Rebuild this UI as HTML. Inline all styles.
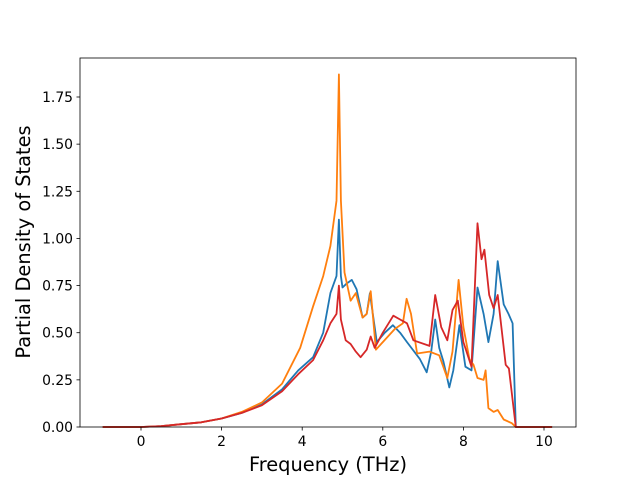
<!DOCTYPE html>
<html><head><meta charset="utf-8"><style>
body{margin:0;background:#fff;font-family:"DejaVu Sans","Liberation Sans",sans-serif}
</style></head><body>
<svg id="chart" width="640" height="480" xmlns="http://www.w3.org/2000/svg" font-family="DejaVu Sans, Liberation Sans, sans-serif">
<rect width="640" height="480" fill="#fff"/>
<g id="plot"></g>
<rect x="80" y="58" width="496" height="369" fill="none" stroke="#000" stroke-width="0.8"/>
<g id="axes" font-size="13.9" fill="#000"></g>
<text x="328" y="471" text-anchor="middle" font-size="19.4">Frequency (THz)</text>
<text transform="translate(30,242) rotate(-90)" text-anchor="middle" font-size="19.4">Partial Density of States</text>
</svg>
<script>
const xTicks=[0,2,4,6,8,10];
const yTicks=[0,0.25,0.5,0.75,1,1.25,1.5,1.75];
const yTickLabels=["0.00","0.25","0.50","0.75","1.00","1.25","1.50","1.75"];
const blueFreq=[-0.95,0,0.5,1,1.5,2,2.5,3,3.5,3.9,4.27,4.52,4.7,4.85,4.91,4.96,5.0,5.1,5.23,5.35,5.5,5.6,5.68,5.85,6.05,6.25,6.43,6.6,6.92,7.09,7.2,7.3,7.4,7.5,7.65,7.75,7.9,8.05,8.2,8.35,8.5,8.62,8.75,8.85,9.0,9.12,9.22,9.3,10.2];
const blueVals=[0,0,0.005,0.015,0.025,0.045,0.075,0.12,0.2,0.3,0.37,0.5,0.71,0.8,1.1,0.8,0.74,0.76,0.78,0.73,0.58,0.6,0.71,0.45,0.5,0.54,0.5,0.45,0.36,0.29,0.4,0.57,0.42,0.35,0.21,0.3,0.54,0.32,0.3,0.74,0.6,0.45,0.6,0.88,0.65,0.6,0.55,0,0];
const orangeFreq=[-0.95,0,0.5,1,1.5,2,2.5,3,3.5,3.95,4.27,4.52,4.7,4.85,4.91,4.96,5.05,5.2,5.33,5.5,5.6,5.7,5.83,6.0,6.3,6.5,6.59,6.7,6.85,7.16,7.4,7.6,7.73,7.88,8.0,8.15,8.25,8.35,8.5,8.55,8.62,8.75,8.85,9.0,9.2,9.3,10.2];
const orangeVals=[0,0,0.005,0.015,0.025,0.045,0.08,0.13,0.23,0.42,0.64,0.8,0.96,1.2,1.87,1.2,0.82,0.67,0.71,0.58,0.6,0.72,0.41,0.45,0.52,0.55,0.68,0.6,0.39,0.4,0.38,0.26,0.4,0.78,0.53,0.36,0.33,0.26,0.25,0.3,0.1,0.08,0.09,0.04,0.02,0,0];
const redFreq=[-0.95,0,0.5,1,1.5,2,2.5,3,3.5,3.9,4.27,4.52,4.7,4.85,4.91,4.96,5.08,5.2,5.33,5.45,5.6,5.7,5.8,6.0,6.26,6.43,6.6,6.76,7.16,7.3,7.45,7.6,7.73,7.86,8.0,8.2,8.35,8.45,8.52,8.64,8.75,8.85,9.05,9.13,9.3,10.2];
const redVals=[0,0,0.005,0.015,0.025,0.045,0.075,0.115,0.19,0.28,0.355,0.46,0.55,0.6,0.75,0.57,0.46,0.44,0.4,0.37,0.41,0.48,0.42,0.5,0.59,0.57,0.55,0.46,0.43,0.7,0.53,0.46,0.62,0.67,0.45,0.32,1.08,0.89,0.94,0.7,0.63,0.7,0.33,0.31,0,0];
const X=f=>141+(f-0)*(544-141)/10;
const Y=v=>427-v*(427-97)/1.75;
const NS="http://www.w3.org/2000/svg";
const plot=document.getElementById('plot'),axes=document.getElementById('axes');
function line(fr,vals,color,name){
  const p=document.createElementNS(NS,'polyline');
  p.setAttribute('points',fr.map((f,i)=>X(f).toFixed(1)+','+Y(vals[i]).toFixed(1)).join(' '));
  p.setAttribute('fill','none');p.setAttribute('stroke',color);p.setAttribute('stroke-width','1.8');p.setAttribute('stroke-linejoin','round');
  
  
  plot.appendChild(p);
}
line(blueFreq,blueVals,'#1f77b4','series-blue');
line(orangeFreq,orangeVals,'#ff7f0e','series-orange');
line(redFreq,redVals,'#d62728','series-red');
xTicks.forEach(t=>{
  const l=document.createElementNS(NS,'line');
  l.setAttribute('x1',X(t));l.setAttribute('x2',X(t));l.setAttribute('y1',427);l.setAttribute('y2',430.5);l.setAttribute('stroke','#000');l.setAttribute('stroke-width','0.8');
  
  
  axes.appendChild(l);
  const tx=document.createElementNS(NS,'text');
  tx.setAttribute('x',X(t));tx.setAttribute('y',446);tx.setAttribute('text-anchor','middle');tx.textContent=t;
  
  
  axes.appendChild(tx);
});
yTicks.forEach((t,i)=>{
  const l=document.createElementNS(NS,'line');
  l.setAttribute('x1',76.5);l.setAttribute('x2',80);l.setAttribute('y1',Y(t));l.setAttribute('y2',Y(t));l.setAttribute('stroke','#000');l.setAttribute('stroke-width','0.8');
  
  
  axes.appendChild(l);
  const tx=document.createElementNS(NS,'text');
  tx.setAttribute('x',73);tx.setAttribute('y',Y(t)+5);tx.setAttribute('text-anchor','end');tx.textContent=yTickLabels[i];
  
  
  axes.appendChild(tx);
});
</script>
</body></html>
